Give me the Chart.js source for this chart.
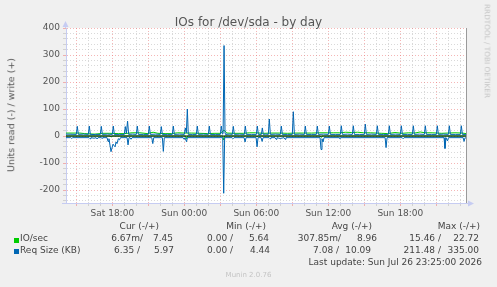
<!DOCTYPE html>
<html>
<head>
<meta charset="utf-8">
<title>IOs for /dev/sda - by day</title>
<script src="https://cdn.jsdelivr.net/npm/chart.js@4.4.1/dist/chart.umd.min.js"></script>
<style>
  html, body { margin: 0; padding: 0; background: #f0f0f0; }
  #wrap { position: relative; width: 497px; height: 287px; overflow: hidden;
          font-family: 'DejaVu Sans', sans-serif; color: #444; }
  #wrap canvas { position: absolute; left: 0; top: 0; }
  .t { position: absolute; white-space: pre; line-height: 1; font-size: 9px; }
  .sq { position: absolute; width: 5px; height: 5px; }
</style>
</head>
<body>
<div id="wrap">
  <canvas id="io" width="497" height="287"></canvas>
</div>
<script>
// hours counted from Sat 00:00
const xMin = 14.14, xMax = 47.47;
const xTickHours = [18, 24, 30, 36, 42];
const xTickLabels = ['Sat 18:00', 'Sun 00:00', 'Sun 06:00', 'Sun 12:00', 'Sun 18:00'];
const yTickValues = [-200, -100, 0, 100, 200, 300, 400];

// IO/sec, read (-) and write (+)
const ioRead = [
  [14.14, 0], [17.8, 0], [17.89, -4], [18.0, 0], [24.1, 0], [24.18, -10], [24.26, 0],
  [27.2, 0], [27.28, -15], [27.36, 0], [30.0, 0], [30.06, -3], [30.14, 0],
  [35.3, 0], [35.39, -4], [35.47, 0], [47.47, 0]
];
const ioWrite = [
  [14.14, 11], [15.3, 11], [15.7, 9], [16.55, 7], [17.2, 10], [17.8, 10], [18.5, 9],
  [19.05, 9], [19.65, 12], [20.3, 12], [20.9, 9], [21.4, 14], [21.8, 10], [22.4, 9],
  [22.95, 9], [23.45, 12], [24.05, 11], [24.6, 11], [25.3, 10], [25.95, 9], [26.55, 10],
  [27.05, 10], [27.3, 22], [27.55, 11], [28.2, 10], [28.9, 10], [29.45, 12], [29.95, 12],
  [30.6, 10], [31.3, 11], [31.95, 11], [32.6, 10], [33.3, 11], [33.95, 11], [34.6, 11],
  [35.3, 12], [35.95, 12], [36.45, 12], [36.95, 12], [37.45, 14], [37.95, 13], [38.45, 14],
  [38.95, 12], [39.5, 12], [40.45, 10], [40.95, 9], [41.55, 13], [42.15, 10], [42.7, 12],
  [43.2, 11], [43.65, 15], [44.05, 12], [44.65, 12], [45.45, 10], [45.95, 11], [46.55, 12],
  [47.15, 11], [47.47, 9]
];

// Req Size (KB), read (-) and write (+)
const reqRead = [
  [14.14, -6], [14.54, -6], [14.62, -9], [14.7, -6],
  [16.06, -6], [16.14, -10], [16.22, -6], [16.48, -8], [16.65, -6], [16.73, -11], [16.81, -6],
  [17.06, -6], [17.14, -8], [17.22, -6],
  [17.56, -6], [17.64, -20], [17.72, -10], [17.89, -58], [18.06, -30], [18.15, -36],
  [18.23, -40], [18.31, -22], [18.39, -28], [18.5, -10], [18.6, -14], [18.68, -6],
  [19.23, -6], [19.31, -33], [19.39, -6], [19.48, -6], [19.56, -12], [19.64, -6],
  [21.29, -6], [21.37, -28], [21.45, -6],
  [22.17, -6], [22.25, -57], [22.33, -6],
  [23.9, -6], [23.98, -12], [24.06, -6], [24.18, -21], [24.26, -6],
  [27.2, -6], [27.28, -212], [27.36, -6],
  [27.98, -6], [28.06, -10], [28.14, -6],
  [28.98, -6], [29.06, -22], [29.14, -6],
  [29.98, -6], [30.06, -40], [30.14, -6], [30.4, -6], [30.48, -20], [30.56, -6],
  [31.06, -6], [31.14, -10], [31.22, -6], [31.56, -6], [31.64, -12], [31.72, -6],
  [31.98, -9], [32.31, -6], [32.39, -12], [32.47, -6],
  [35.31, -6], [35.39, -50], [35.47, -10], [35.56, -22], [35.64, -6],
  [36.89, -6], [36.97, -9], [37.05, -6],
  [40.73, -6], [40.81, -43], [40.89, -6],
  [42.15, -6], [42.23, -10], [42.31, -6],
  [45.64, -6], [45.72, -46], [45.8, -6], [45.93, -18], [46.01, -6],
  [47.23, -6], [47.31, -20], [47.39, -6], [47.47, -8]
];
const reqWrite = [
  [14.14, 7],
  [15.0, 6], [15.08, 36], [15.17, 6], [15.6, 7],
  [16.0, 6], [16.08, 37], [16.17, 5], [16.6, 6],
  [17.0, 6], [17.08, 36], [17.17, 6], [17.6, 7],
  [18.0, 6], [18.08, 37], [18.17, 6], [18.6, 6],
  [19.0, 6], [19.08, 35], [19.17, 10], [19.27, 55], [19.36, 6], [19.7, 7],
  [20.0, 6], [20.08, 37], [20.17, 6], [20.6, 6],
  [21.0, 6], [21.08, 37], [21.17, 6], [21.6, 7],
  [22.0, 6], [22.08, 35], [22.17, 6], [22.6, 6],
  [23.0, 6], [23.08, 37], [23.17, 6], [23.6, 7],
  [24.0, 6], [24.08, 30], [24.17, 12], [24.25, 100], [24.33, 6], [24.7, 6],
  [25.0, 6], [25.08, 37], [25.17, 6], [25.6, 7],
  [26.0, 6], [26.08, 37], [26.17, 6], [26.6, 6],
  [27.0, 6], [27.08, 37], [27.17, 7], [27.23, 9], [27.31, 335], [27.39, 9], [27.47, 6], [27.8, 7],
  [28.0, 6], [28.08, 36], [28.17, 6], [28.6, 7],
  [29.0, 6], [29.08, 37], [29.17, 6], [29.6, 6],
  [30.0, 6], [30.08, 37], [30.17, 6], [30.42, 6], [30.5, 30], [30.58, 6], [30.8, 7],
  [31.0, 6], [31.08, 63], [31.17, 6], [31.6, 7],
  [32.0, 6], [32.08, 37], [32.17, 6], [32.6, 6],
  [33.0, 6], [33.08, 90], [33.17, 6], [33.6, 7],
  [34.0, 6], [34.08, 37], [34.17, 6], [34.6, 6],
  [35.0, 6], [35.08, 37], [35.17, 6], [35.6, 7],
  [36.0, 6], [36.08, 37], [36.17, 6], [36.6, 6],
  [37.0, 6], [37.08, 38], [37.17, 6], [37.6, 7],
  [38.0, 6], [38.08, 38], [38.17, 6], [38.6, 6],
  [39.0, 6], [39.08, 44], [39.17, 6], [39.6, 7],
  [40.0, 6], [40.08, 38], [40.17, 6], [40.6, 6],
  [41.0, 6], [41.08, 38], [41.17, 6], [41.6, 7],
  [42.0, 6], [42.08, 38], [42.17, 6], [42.6, 6],
  [43.0, 6], [43.08, 38], [43.17, 6], [43.6, 7],
  [44.0, 6], [44.08, 38], [44.17, 6], [44.6, 6],
  [45.0, 6], [45.08, 38], [45.17, 6], [45.6, 7],
  [46.0, 6], [46.08, 38], [46.17, 6], [46.6, 6],
  [47.0, 6], [47.08, 38], [47.17, 6], [47.47, 6]
];

// legend table
const seriesNames = ['IO/sec', 'Req Size (KB)'];
const seriesColors = ['#00cc00', '#0066b3'];
const statHeads = ['Cur (-/+)', 'Min (-/+)', 'Avg (-/+)', 'Max (-/+)'];
const ioStats = ['6.67m/', '7.45', '0.00 /', '5.64', '307.85m/', '8.96', '15.46 /', '22.72'];
const reqStats = ['6.35 /', '5.97', '0.00 /', '4.44', '7.08 /', '10.09', '211.48 /', '335.00'];
const lastUpdate = 'Last update: Sun Jul 26 23:25:00 2026';

const pts = arr => arr.map(([x, y]) => ({ x, y }));
const RED = 'rgba(235, 110, 110, 0.5)';
const GRAY = 'rgba(170, 170, 170, 0.45)';
const AXIS = '#c6ccf2';

const frame = {
  id: 'frame',
  beforeDraw(chart) {
    const { ctx, chartArea: a } = chart;
    ctx.save();
    ctx.fillStyle = '#fff';
    ctx.fillRect(a.left, a.top, a.right - a.left, a.bottom - a.top);
    ctx.restore();
  },
  afterDraw(chart) {
    const { ctx, chartArea: a } = chart;
    ctx.save();
    // right edge
    ctx.strokeStyle = '#9a9a9a';
    ctx.lineWidth = 1;
    ctx.beginPath();
    ctx.moveTo(a.right + 0.5, a.top);
    ctx.lineTo(a.right + 0.5, a.bottom);
    ctx.stroke();
    // axis arrows
    ctx.strokeStyle = AXIS;
    ctx.fillStyle = AXIS;
    ctx.beginPath();
    ctx.moveTo(a.left - 0.5, a.top);
    ctx.lineTo(a.left - 0.5, a.top - 3);
    ctx.moveTo(a.left - 4, a.bottom + 0.5);
    ctx.lineTo(a.right + 4, a.bottom + 0.5);
    ctx.stroke();
    ctx.beginPath();
    ctx.moveTo(a.left - 3.5, a.top - 1);
    ctx.lineTo(a.left + 2.5, a.top - 1);
    ctx.lineTo(a.left - 0.5, a.top - 7);
    ctx.fill();
    ctx.beginPath();
    ctx.moveTo(a.right + 2, a.bottom - 2.5);
    ctx.lineTo(a.right + 2, a.bottom + 3.5);
    ctx.lineTo(a.right + 8, a.bottom + 0.5);
    ctx.fill();
    ctx.restore();
  }
};

const ctx = document.getElementById('io').getContext('2d');
new Chart(ctx, {
  type: 'line',
  data: {
    datasets: [
      { data: pts(ioRead), borderColor: seriesColors[0], order: 5 },
      { data: pts(ioWrite), borderColor: seriesColors[0], order: 4 },
      { data: pts([[xMin, 0], [xMax, 0]]), borderColor: '#000', order: 3 },
      { data: pts(reqRead), borderColor: seriesColors[1], order: 2 },
      { data: pts(reqWrite), borderColor: seriesColors[1], order: 1 }
    ]
  },
  options: {
    responsive: false,
    animation: false,
    devicePixelRatio: 1,
    layout: { padding: { top: 28, right: 31, left: 0, bottom: 0 } },
    elements: {
      point: { radius: 0 },
      line: { borderWidth: 1, tension: 0, fill: false, borderJoinStyle: 'round' }
    },
    plugins: { legend: { display: false }, tooltip: { enabled: false } },
    scales: {
      x: {
        type: 'linear',
        min: xMin,
        max: xMax,
        afterFit: s => { s.height = 84; },
        ticks: {
          stepSize: 1,
          includeBounds: false,
          autoSkip: false,
          maxRotation: 0,
          minRotation: 0,
          padding: 2,
          color: '#555',
          font: { family: 'DejaVu Sans', size: 9 },
          callback: v => {
            const i = xTickHours.indexOf(v);
            return i >= 0 ? xTickLabels[i] : '';
          }
        },
        grid: {
          color: c => (c.tick && c.tick.value % 3 === 0 ? RED : GRAY),
          tickLength: 3
        },
        border: { display: false, dash: [1, 2] }
      },
      y: {
        min: -248,
        max: 400,
        afterFit: s => { s.width = 66; },
        ticks: {
          stepSize: 20,
          includeBounds: false,
          autoSkip: false,
          padding: 3,
          color: '#555',
          font: { family: 'DejaVu Sans', size: 9 },
          callback: v => (yTickValues.includes(v) ? String(v) : '')
        },
        grid: {
          color: c => (c.tick && c.tick.value % 100 === 0 ? RED : GRAY),
          tickLength: 3
        },
        border: { display: true, color: AXIS, dash: [1, 2] }
      }
    }
  },
  plugins: [frame]
});

// texts around the plot
const wrap = document.getElementById('wrap');
function addText(txt, style) {
  const d = document.createElement('div');
  d.className = 't';
  d.textContent = txt;
  Object.assign(d.style, style);
  wrap.appendChild(d);
  return d;
}

addText('IOs for /dev/sda - by day', { left: '0px', width: '497px', textAlign: 'center', top: '16px', fontSize: '12px', color: '#555' });
addText('Units read (-) / write (+)', { left: '11px', top: '115px', fontSize: '9.5px', color: '#555',
  transform: 'translate(-50%, -50%) rotate(-90deg)' });
addText('RRDTOOL / TOBI OETIKER', { left: '487px', top: '51px', fontSize: '7.3px', color: '#c4c4c4',
  transform: 'translate(-50%, -50%) rotate(90deg)' });

const headRight = [159, 266, 372, 480];
statHeads.forEach((h, i) => addText(h, { right: (497 - headRight[i]) + 'px', top: '222px' }));

const rowTops = [234.1, 245.7];
const sqTops = [237.5, 249];
const rowRights = [
  [143, 173, 233, 269, 341, 377, 441, 479],
  [140, 174, 233, 270, 339, 371, 441, 479]
];
[ioStats, reqStats].forEach((stats, r) => {
  const sq = document.createElement('div');
  sq.className = 'sq';
  Object.assign(sq.style, { left: '14px', top: sqTops[r] + 'px', background: seriesColors[r] });
  wrap.appendChild(sq);
  addText(seriesNames[r], { left: '20px', top: rowTops[r] + 'px' });
  stats.forEach((s, i) => addText(s, { right: (497 - rowRights[r][i]) + 'px', top: rowTops[r] + 'px' }));
});

addText(lastUpdate, { right: '15px', top: '258px' });
addText('Munin 2.0.76', { left: '0px', width: '497px', textAlign: 'center', top: '272px', fontSize: '7px', color: '#c4c4c4' });
</script>
</body>
</html>
